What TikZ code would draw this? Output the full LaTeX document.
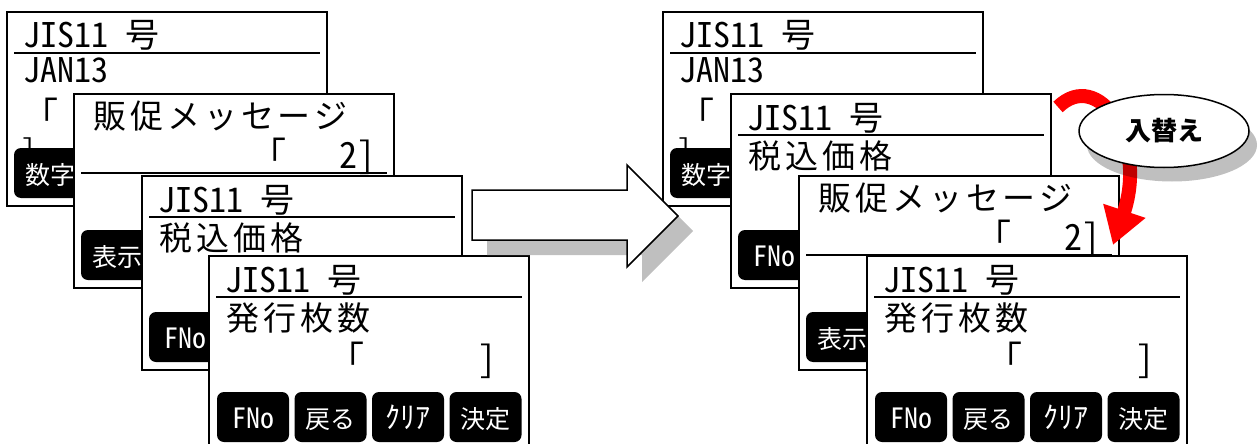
\documentclass[tikz,border=0pt]{standalone}
\usepackage{fontspec}
\setmainfont{Noto Sans CJK JP}
\newfontfamily\halfw{Noto Sans CJK JP}[RawFeature=+hwid]
\newfontfamily\tracked{Noto Sans CJK JP}[LetterSpace=12]
\usetikzlibrary{arrows.meta,shapes.geometric,shadows}
\definecolor{shadowgray}{HTML}{BFBFBF}
\definecolor{swapred}{HTML}{FF0000}
\tikzset{
  panel/.style={draw=black,line width=1.5pt,fill=white},
  divider/.style={line width=1.5pt},
  titletext/.style={anchor=base west,inner sep=0pt,font=\fontsize{34pt}{34pt}\selectfont},
  bodytext/.style={anchor=base west,inner sep=0pt,font=\tracked\fontsize{33pt}{33pt}\selectfont},
  codetext/.style={anchor=base west,inner sep=0pt,font=\halfw\fontsize{34pt}{34pt}\selectfont},
  brackettext/.style={anchor=base west,inner sep=0pt,font=\fontsize{36pt}{36pt}\selectfont},
  halfbracket/.style={brackettext,font=\halfw\fontsize{36pt}{36pt}\selectfont},
  cutbracket/.style={brackettext,font=\halfw\fontsize{30pt}{30pt}\selectfont},
  softkey/.style={fill=black,rounded corners=7pt},
  keytext/.style={anchor=base,inner sep=0pt,text=white,font=\fontsize{25pt}{25pt}\selectfont},
}
\newcommand{\fno}{{\halfw\fontsize{28pt}{28pt}\selectfont FNo}}
\newcommand{\clr}{{\fontsize{30pt}{30pt}\selectfont ｸﾘｱ}}

\begin{document}
\begin{tikzpicture}[x=1pt,y=-1pt]
  \useasboundingbox (0,0) rectangle (1258,444);
  \clip (0,0) rectangle (1258,444);

  % Left stack, panel A: JAN13 (back)
  \begin{scope}[shift={(7,12)}]
    \draw[panel] (0,0) rectangle (320,194);
    \node[titletext] (lAtitle) at (16,36) {{\halfw JIS11 }号};
    \draw[divider] (7,41) -- (313,41);
    \node[codetext] (lAcode) at (16,70) {JAN13};
    \node[brackettext] (lAopen) at (15,116) {「};
    \node[cutbracket] (lAclose) at (14,149) {]};
    \fill[softkey] (7,136) rectangle +(72,50);
    \node[keytext] (lAkey) at (43,172) {数字};
  \end{scope}

  % Left stack, panel B: sales message
  \begin{scope}[shift={(74,94)}]
    \draw[panel] (0,0) rectangle (320,194);
    \node[bodytext] (lBtitle) at (19,34) {販促メッセージ};
    \node[brackettext] (lBopen) at (176,74) {「};
    \node[halfbracket,anchor=base east] (lBvalue) at (302,74) {2]};
    \draw[divider] (7,79) -- (313,79);
    \fill[softkey] (7,136) rectangle +(72,50);
    \node[keytext] (lBkey) at (43,172) {表示};
  \end{scope}

  % Left stack, panel C: price incl. tax
  \begin{scope}[shift={(142,176)}]
    \draw[panel] (0,0) rectangle (320,194);
    \node[titletext] (lCtitle) at (16,36) {{\halfw JIS11 }号};
    \draw[divider] (7,41) -- (313,41);
    \node[bodytext] (lCbody) at (17,74) {税込価格};
    \fill[softkey] (7,136) rectangle +(72,50);
    \node[keytext] (lCkey) at (43,172) {\fno};
  \end{scope}

  % Left stack, panel D: issue count (front)
  \begin{scope}[shift={(209,256)}]
    \draw[panel] (0,0) rectangle (320,194);
    \node[titletext] (lDtitle) at (16,36) {{\halfw JIS11 }号};
    \draw[divider] (7,41) -- (313,41);
    \node[bodytext] (lDbody) at (17,74) {発行枚数};
    \node[brackettext] (lDopen) at (119,116) {「};
    \node[halfbracket] (lDclose) at (269,116) {]};
    \foreach \k/\lbl in {0/\fno,1/戻る,2/\clr,3/決定} {
      \fill[softkey] (8+77.5*\k,136) rectangle +(72,50);
      \node[keytext] (lDkey\k) at (44+77.5*\k,172) {\lbl};
    }
  \end{scope}

  % Right stack, panel A: JAN13 (back)
  \begin{scope}[shift={(663,12)}]
    \draw[panel] (0,0) rectangle (320,194);
    \node[titletext] (rAtitle) at (16,36) {{\halfw JIS11 }号};
    \draw[divider] (7,41) -- (313,41);
    \node[codetext] (rAcode) at (16,70) {JAN13};
    \node[brackettext] (rAopen) at (15,116) {「};
    \node[cutbracket] (rAclose) at (14,149) {]};
    \fill[softkey] (7,136) rectangle +(72,50);
    \node[keytext] (rAkey) at (43,172) {数字};
  \end{scope}

  % Right stack, panel B: price incl. tax (moved up)
  \begin{scope}[shift={(731,94)}]
    \draw[panel] (0,0) rectangle (320,194);
    \node[titletext] (rBtitle) at (16,36) {{\halfw JIS11 }号};
    \draw[divider] (7,41) -- (313,41);
    \node[bodytext] (rBbody) at (17,74) {税込価格};
    \fill[softkey] (7,136) rectangle +(72,50);
    \node[keytext] (rBkey) at (43,172) {\fno};
  \end{scope}

  % Right stack, panel C: sales message (moved down)
  \begin{scope}[shift={(799,176)}]
    \draw[panel] (0,0) rectangle (320,194);
    \node[bodytext] (rCtitle) at (19,34) {販促メッセージ};
    \node[brackettext] (rCopen) at (176,74) {「};
    \node[halfbracket,anchor=base east] (rCvalue) at (302,74) {2]};
    \draw[divider] (7,79) -- (313,79);
    \fill[softkey] (7,136) rectangle +(72,50);
    \node[keytext] (rCkey) at (43,172) {表示};
  \end{scope}

  % Right stack, panel D: issue count (front)
  \begin{scope}[shift={(867,256)}]
    \draw[panel] (0,0) rectangle (320,194);
    \node[titletext] (rDtitle) at (16,36) {{\halfw JIS11 }号};
    \draw[divider] (7,41) -- (313,41);
    \node[bodytext] (rDbody) at (17,74) {発行枚数};
    \node[brackettext] (rDopen) at (119,116) {「};
    \node[halfbracket] (rDclose) at (269,116) {]};
    \foreach \k/\lbl in {0/\fno,1/戻る,2/\clr,3/決定} {
      \fill[softkey] (8+77.5*\k,136) rectangle +(72,50);
      \node[keytext] (rDkey\k) at (44+77.5*\k,172) {\lbl};
    }
  \end{scope}

  % Flow arrow between the stacks
  \draw[panel,drop shadow={shadow xshift=15pt,shadow yshift=-15pt,draw=none,fill=shadowgray,opacity=1}]
    (472,190) -- (627,190) -- (627,165) -- (678,216) -- (627,267) -- (627,240) -- (472,240) -- cycle;

  % Swap arrow and its label
  \coordinate (swapfrom) at (1058,107);
  \coordinate (swapto) at (1113,245);
  \draw[swapred,line width=14pt,-{Triangle[length=36pt,width=42pt]}]
    (swapfrom) .. controls (1098,68) and (1148,140) .. (swapto);
  \node[ellipse,draw,line width=1.5pt,fill=white,minimum width=170pt,minimum height=73pt,inner sep=0pt,
    font=\bfseries\fontsize{26pt}{26pt}\selectfont,
    drop shadow={shadow xshift=8pt,shadow yshift=-14pt,draw=none,fill=black,opacity=.25}]
    (swaplabel) at (1164,131) {入替え};
\end{tikzpicture}
\end{document}
